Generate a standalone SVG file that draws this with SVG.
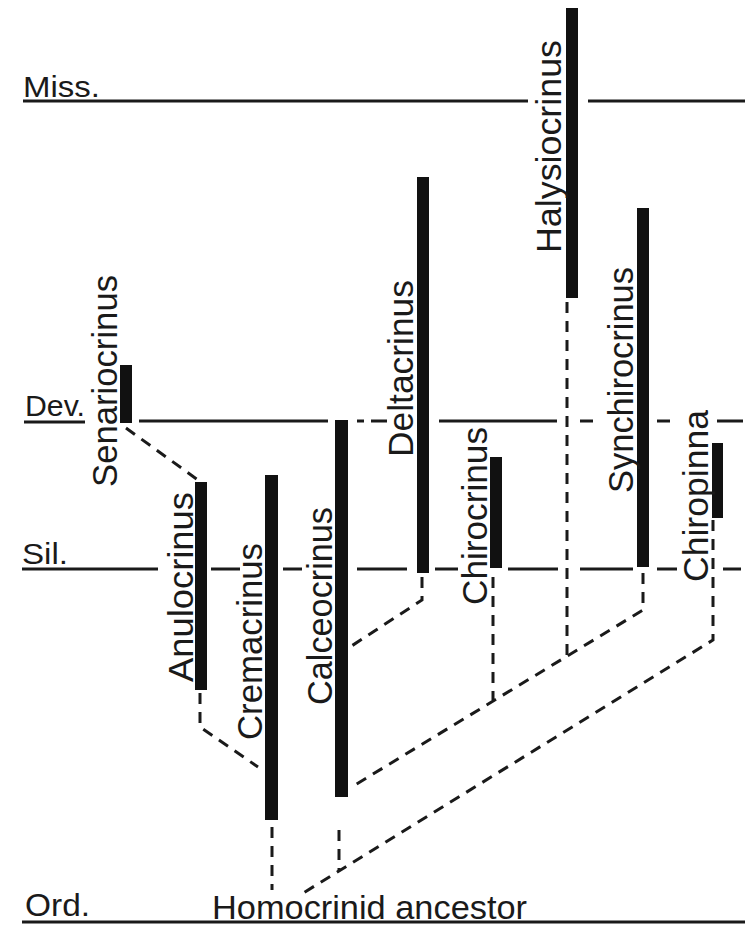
<svg xmlns="http://www.w3.org/2000/svg" width="751" height="930" viewBox="0 0 751 930">
<style>
text{font-family:"Liberation Sans",Arial,sans-serif;fill:#1a1a1a;}
.per{font-size:30px;}
.sp{font-size:35px;}
.hl{stroke:#1a1a1a;stroke-width:3.2;fill:none;stroke-linecap:butt;}
.bar{fill:#111;}
.dash{stroke:#1a1a1a;stroke-width:3;fill:none;stroke-dasharray:11 8;}
</style>
<rect width="751" height="930" fill="#fff"/>
<g id="periods">
<text class="per" x="23" y="97" textLength="77" lengthAdjust="spacingAndGlyphs">Miss.</text>
<text class="per" x="25" y="416" textLength="60" lengthAdjust="spacingAndGlyphs">Dev.</text>
<text class="per" x="22" y="564" textLength="46" lengthAdjust="spacingAndGlyphs">Sil.</text>
<text class="per" x="25" y="916" style="font-size:32px" textLength="65" lengthAdjust="spacingAndGlyphs">Ord.</text>
<path class="hl" d="M23,101 H528 M588,101 H745"/>
<path class="hl" d="M24,422 H85 M139,421 H328 M357,421 H364 M371,421 H387 M439,421 H557 M580,421 H593 M657,421 H670 M717,421 H743"/>
<path class="hl" d="M22,569 H158 M211,569 H240 M283,569 H302 M357,569 H407 M435,569 H458 M508,569 H558 M580,569 H633 M657,569 H677 M723,569 H741"/>
<path class="hl" d="M22,922 H745"/>
</g>
<g id="connectors">
<path class="dash" d="M126,428 L198,480"/>
<path class="dash" d="M200,693 L200,727 L258,767"/>
<path class="dash" d="M272,827 L272,890"/>
<path class="dash" d="M339,830 L339,871"/>
<path class="dash" d="M422,577 L422,600 L350,647"/>
<path class="dash" d="M493,577 L493,700"/>
<path class="dash" d="M567,302 L567,655"/>
<path class="dash" d="M643,573 L643,610 L350,788"/>
<path class="dash" d="M713,520 L713,640 L300,895"/>
</g>
<g id="senariocrinus">
<rect class="bar" x="120" y="365" width="12" height="58"/>
<text class="sp" transform="translate(117,487) rotate(-90)" textLength="212" lengthAdjust="spacingAndGlyphs">Senariocrinus</text>
</g>
<g id="anulocrinus">
<rect class="bar" x="195" y="482" width="12" height="208"/>
<text class="sp" transform="translate(193,682) rotate(-90)" textLength="190" lengthAdjust="spacingAndGlyphs">Anulocrinus</text>
</g>
<g id="cremacrinus">
<rect class="bar" x="265" y="475" width="13" height="345"/>
<text class="sp" transform="translate(262,740) rotate(-90)" textLength="197" lengthAdjust="spacingAndGlyphs">Cremacrinus</text>
</g>
<g id="calceocrinus">
<rect class="bar" x="335" y="420" width="13" height="377"/>
<text class="sp" transform="translate(332,705) rotate(-90)" textLength="198" lengthAdjust="spacingAndGlyphs">Calceocrinus</text>
</g>
<g id="deltacrinus">
<rect class="bar" x="417" y="177" width="12" height="396"/>
<text class="sp" transform="translate(413,457) rotate(-90)" textLength="177" lengthAdjust="spacingAndGlyphs">Deltacrinus</text>
</g>
<g id="chirocrinus">
<rect class="bar" x="490" y="457" width="12" height="111"/>
<text class="sp" transform="translate(487,605) rotate(-90)" textLength="178" lengthAdjust="spacingAndGlyphs">Chirocrinus</text>
</g>
<g id="halysiocrinus">
<rect class="bar" x="566" y="8" width="12" height="290"/>
<text class="sp" transform="translate(561,253) rotate(-90)" textLength="213" lengthAdjust="spacingAndGlyphs">Halysiocrinus</text>
</g>
<g id="synchirocrinus">
<rect class="bar" x="637" y="208" width="12" height="359"/>
<text class="sp" transform="translate(633,493) rotate(-90)" textLength="226" lengthAdjust="spacingAndGlyphs">Synchirocrinus</text>
</g>
<g id="chiropinna">
<rect class="bar" x="712" y="443" width="11" height="75"/>
<text class="sp" transform="translate(708,582) rotate(-90)" textLength="172" lengthAdjust="spacingAndGlyphs">Chiropinna</text>
</g>
<g id="ancestor">
<text x="212" y="919" style="font-size:34px" textLength="315" lengthAdjust="spacingAndGlyphs">Homocrinid ancestor</text>
</g>
</svg>
